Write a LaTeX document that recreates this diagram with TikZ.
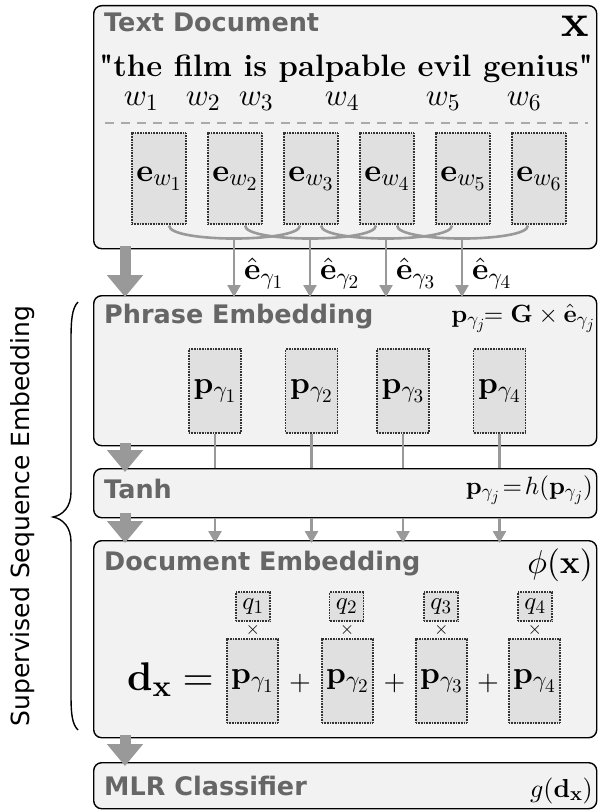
\documentclass[tikz,border=0pt]{standalone}
\usepackage[no-math]{fontspec}
\DeclareFontShape{OML}{cmm}{m}{it}{<->cmmi10}{}
\DeclareFontShape{OML}{cmm}{b}{it}{<->cmmib10}{}
\DeclareFontShape{OT1}{cmr}{m}{n}{<->cmr10}{}
\DeclareFontShape{OT1}{cmr}{bx}{n}{<->cmbx10}{}
\DeclareFontShape{OMS}{cmsy}{m}{n}{<->cmsy10}{}
\DeclareFontShape{OMS}{cmsy}{b}{n}{<->cmbsy10}{}
\DeclareFontShape{OMX}{cmex}{m}{n}{<->cmex10}{}
\makeatletter
\def\defaultscriptratio{.76}
\def\defaultscriptscriptratio{.62}
\makeatother
\newfontfamily\dvsans{DejaVu Sans}
\newfontfamily\qfont{Latin Modern Roman}
\usetikzlibrary{arrows.meta,calc}
\definecolor{boxfill}{HTML}{F2F2F2}
\definecolor{cellfill}{HTML}{E0E0E0}
\definecolor{arrgray}{HTML}{999999}
\definecolor{titlegray}{HTML}{666666}
\definecolor{dashgray}{HTML}{AAAAAA}
\begin{document}
\begin{tikzpicture}[x=1pt,y=-1pt,
 layer/.style={draw=black, line width=1.4pt, fill=boxfill, rounded corners=8pt, inner sep=0pt, anchor=north west},
 cell/.style={draw=black!80, fill=cellfill, line width=1.1pt, dash pattern=on 0.8pt off 0.8pt, inner sep=0pt},
 title/.style={font=\dvsans\bfseries\fontsize{25.5}{30}\selectfont, text=titlegray, anchor=base west, inner sep=0pt},
 thinline/.style={draw=arrgray, line width=2.6pt},
 thinarrow/.style={thinline, -{Triangle[width=13pt,length=12pt]}},
 bigarrow/.style={draw=arrgray, line width=11pt, -{Triangle[width=35pt,length=22pt]}},
 mth/.style={inner sep=0pt, font=\fontsize{#1}{#1}\selectfont},
]
\useasboundingbox (0,0) rectangle (597,810);
% layers
\node[layer, minimum width=503pt, minimum height=243pt] (doc) at (93,5) {};
\node[layer, minimum width=503pt, minimum height=150pt] (phrase) at (93,295) {};
\node[layer, minimum width=503pt, minimum height=49pt] (tanh) at (93,468) {};
\node[layer, minimum width=503pt, minimum height=197pt] (demb) at (93,540) {};
\node[layer, minimum width=503pt, minimum height=46pt] (mlr) at (93,762) {};
% titles
\node[title] (t1) at (104,32) {Text Document};
\node[title] (t2) at (104,323) {Phrase Embedding};
\node[title] (t3) at (104,498) {Tanh};
\node[title] (t4) at (104,570) {Document Embedding};
\node[title] (t5) at (104,795) {MLR Classifier};
% right formulas
\node[mth=46, anchor=base east] (fx) at (589,37) {$\mathbf{x}$};
\node[mth=25, anchor=base east] (f2) at (595,322) {$\mathbf{p}_{\gamma_j}\!\!=\mathbf{G}\times\hat{\mathbf{e}}_{\gamma_j}$};
\node[mth=25, anchor=base east] (f3) at (593,494) {$\mathbf{p}_{\gamma_j}\!=\!h(\mathbf{p}_{\gamma_j})$};
\node[mth=33, anchor=base east] (f4) at (593,573) {$\phi(\mathbf{x})$};
\node[mth=26, anchor=base east] (f5) at (593,797) {$g(\mathbf{d}_{\mathbf{x}})$};
% quote
\node[anchor=base, inner sep=0pt, font=\qfont\bfseries\fontsize{31}{36}\selectfont] (quote) at (346,77) {"the film is palpable evil genius"};
% words
\node[mth=31, anchor=base] (w1) at (141,106) {$w_1$};
\node[mth=31, anchor=base] (w2) at (203,106) {$w_2$};
\node[mth=31, anchor=base] (w3) at (256,106) {$w_3$};
\node[mth=31, anchor=base] (w4) at (342,106) {$w_4$};
\node[mth=31, anchor=base] (w5) at (443,106) {$w_5$};
\node[mth=31, anchor=base] (w6) at (524,106) {$w_6$};
\coordinate (dl) at (105,123);
\coordinate (dr) at (588,123);
\draw[dashgray, line width=1.5pt, dash pattern=on 9pt off 7pt] (dl) -- (dr);
% word embedding cells
\foreach \i/\x in {1/159,2/235,3/311,4/387,5/463,6/539}{
  \node[cell, mth=32, minimum width=54pt, minimum height=91pt] (e\i) at (\x,178.5) {$\mathbf{e}_{w_\i}$};
}
% merging curves
\foreach \j [evaluate=\j as \k using int(\j+1), evaluate=\j as \l using int(\j+2)] in {1,2,3,4}{
  \coordinate (m\j) at ($(e\k.south)+(-1,14)$);
  \draw[thinline] ($(e\j.south)+(10,1)$) .. controls +(0,9) and +(-30,0) .. (m\j);
  \draw[thinline] ($(e\l.south)+(-11,1)$) .. controls +(0,9) and +(30,0) .. (m\j);
  \draw[thinarrow] (m\j) -- ($(m\j |- phrase.north)+(0,2)$);
  \node[mth=31, anchor=west] (eh\j) at ($(m\j)+(10,35)$) {$\hat{\mathbf{e}}_{\gamma_\j}$};
}
% phrase cells
\foreach \i/\x in {1/215,2/311.5,3/403,4/499.5}{
  \node[cell, mth=31, minimum width=52pt, minimum height=84pt] (p\i) at (\x,391) {$\mathbf{p}_{\gamma_\i}$};
  \draw[thinline] (p\i.south) -- (p\i.south |- tanh.north);
  \draw[thinarrow] (p\i.south |- tanh.south) -- ($(p\i.south |- demb.north)+(0,3)$);
}
% document embedding
\node[mth=40, anchor=base east] (dx) at (214,690) {$\mathbf{d}_{\mathbf{x}}=$};
\foreach \i/\x/\qx in {1/252.5/253,2/347.5/346.5,3/441.5/441,4/534.5/535}{
  \node[cell, mth=31, minimum width=51pt, minimum height=84pt] (dp\i) at (\x,681) {$\mathbf{p}_{\gamma_\i}$};
  \node[cell, mth=25, minimum width=34pt, minimum height=29pt] (q\i) at (\qx,606.5) {$q_\i$};
  \node[mth=18] (x\i) at ($(q\i.south)!0.5!(dp\i.north)$) {$\times$};
}
\foreach \a/\b in {1/2,2/3,3/4}{
  \node[mth=28] (plus\a) at ($(dp\a.east)!0.5!(dp\b.west)+(0,2)$) {$+$};
}
% big arrows
\coordinate (ax) at (125,0);
\draw[bigarrow] ($(doc.south -| ax)+(0,-3)$) -- ($(phrase.north -| ax)+(0,2)$);
\draw[bigarrow] ($(phrase.south -| ax)+(0,-3)$) -- ($(tanh.north -| ax)+(0,4)$);
\draw[bigarrow] ($(tanh.south -| ax)+(0,-5)$) -- ($(demb.north -| ax)+(0,3)$);
\draw[bigarrow] ($(demb.south -| ax)+(0,-3)$) -- ($(mlr.north -| ax)+(0,4)$);
% brace
\coordinate (bt) at (78,302);
\coordinate (bm) at (53,517);
\coordinate (bb) at (78,730);
\draw[line width=1.4pt] (bt) .. controls (72,308) and (71,320) .. (71,340) -- (71,492)
  .. controls (71,507) and (63,515) .. (bm)
  .. controls (63,519) and (71,527) .. (71,542) -- (71,694)
  .. controls (71,714) and (72,724) .. (bb);
\node[rotate=90, inner sep=0pt, font=\dvsans\fontsize{25}{30}\selectfont] (sse) at (23,516) {Supervised Sequence Embedding};
\end{tikzpicture}
\end{document}
